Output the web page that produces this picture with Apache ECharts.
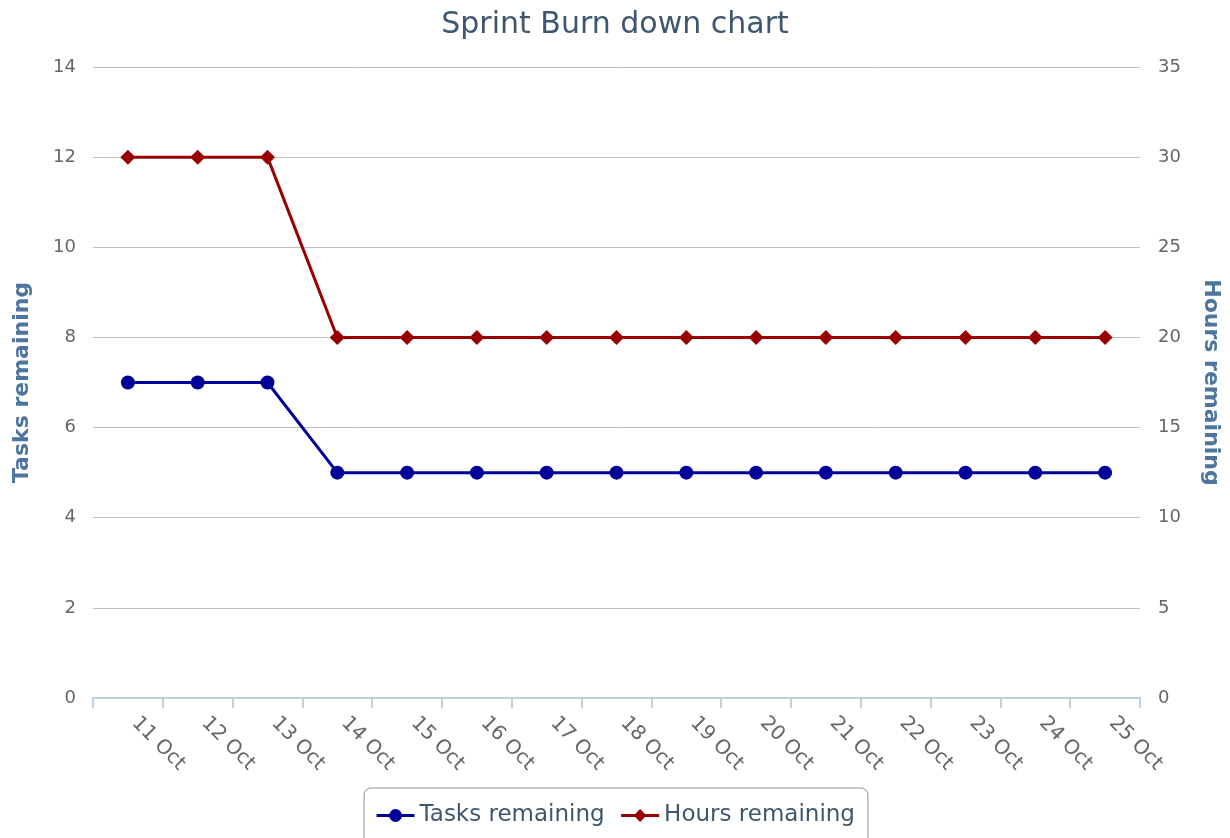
<!DOCTYPE html>
<html>
<head>
<meta charset="utf-8">
<script src="https://cdn.jsdelivr.net/npm/echarts@6/dist/echarts.min.js"></script>
<style>
  html, body { margin: 0; padding: 0; background: #fff; }
  #chart { width: 1230px; height: 838px; }
</style>
</head>
<body>
<div id="chart"></div>
<script>
// Sprint days
const days = ['11 Oct', '12 Oct', '13 Oct', '14 Oct', '15 Oct', '16 Oct', '17 Oct', '18 Oct',
              '19 Oct', '20 Oct', '21 Oct', '22 Oct', '23 Oct', '24 Oct', '25 Oct'];
// Remaining work per day
const tasksRemaining = [7, 7, 7, 5, 5, 5, 5, 5, 5, 5, 5, 5, 5, 5, 5];
const hoursRemaining = [30, 30, 30, 20, 20, 20, 20, 20, 20, 20, 20, 20, 20, 20, 20];

const FONT = '"DejaVu Sans", "Lucida Grande", sans-serif';
const labelStyle = { color: '#666666', fontSize: 18, fontFamily: FONT };
const nameStyle = { color: '#4d759e', fontSize: 22, fontWeight: 'bold', fontFamily: FONT };

const chart = echarts.init(document.getElementById('chart'), null, { renderer: 'canvas' });
chart.setOption({
  animation: false,
  backgroundColor: '#ffffff',
  title: {
    text: 'Sprint Burn down chart',
    left: 'center',
    top: 5,
    textStyle: { color: '#3E576F', fontSize: 30, fontWeight: 'normal', fontFamily: FONT }
  },
  grid: { left: 93, right: 90, top: 67, bottom: 140, containLabel: false },
  legend: {
    top: 788,
    left: 'center',
    padding: [16, 13, 20, 11],
    borderColor: '#909090',
    borderWidth: 1,
    borderRadius: 7,
    itemWidth: 38,
    itemHeight: 16,
    itemGap: 15,
    lineStyle: { width: 3 },
    textStyle: { color: '#3E576F', fontSize: 23, fontFamily: FONT }
  },
  xAxis: {
    type: 'category',
    data: days,
    boundaryGap: true,
    axisLine: { lineStyle: { color: '#C0D0E0', width: 2 } },
    axisTick: { show: true, length: 10, lineStyle: { color: '#C0D0E0', width: 2 } },
    axisLabel: Object.assign({ rotate: -45, margin: 15, interval: 0, padding: [0, 0, 0, 10] },
                             labelStyle, { fontSize: 20 }),
    splitLine: { show: false }
  },
  yAxis: [
    {
      type: 'value',
      name: 'Tasks remaining',
      nameLocation: 'middle',
      nameGap: 60,
      nameTextStyle: nameStyle,
      min: 0, max: 14, interval: 2,
      axisLine: { show: false },
      axisTick: { show: false },
      axisLabel: Object.assign({ margin: 17 }, labelStyle),
      splitLine: { lineStyle: { color: '#C0C0C0', width: 1 } }
    },
    {
      type: 'value',
      name: 'Hours remaining',
      nameLocation: 'middle',
      nameGap: 60,
      nameRotate: -90,
      nameTextStyle: nameStyle,
      min: 0, max: 35, interval: 5,
      position: 'right',
      axisLine: { show: false },
      axisTick: { show: false },
      axisLabel: Object.assign({ margin: 18 }, labelStyle),
      splitLine: { show: false }
    }
  ],
  series: [
    {
      name: 'Tasks remaining',
      type: 'line',
      yAxisIndex: 0,
      data: tasksRemaining,
      symbol: 'circle',
      symbolSize: 14,
      color: '#000099',
      lineStyle: { width: 3, color: '#000099' },
      itemStyle: { color: '#000099' }
    },
    {
      name: 'Hours remaining',
      type: 'line',
      yAxisIndex: 1,
      data: hoursRemaining,
      symbol: 'diamond',
      symbolSize: 15,
      color: '#990000',
      lineStyle: { width: 3, color: '#990000' },
      itemStyle: { color: '#990000' }
    }
  ]
});
</script>
</body>
</html>
